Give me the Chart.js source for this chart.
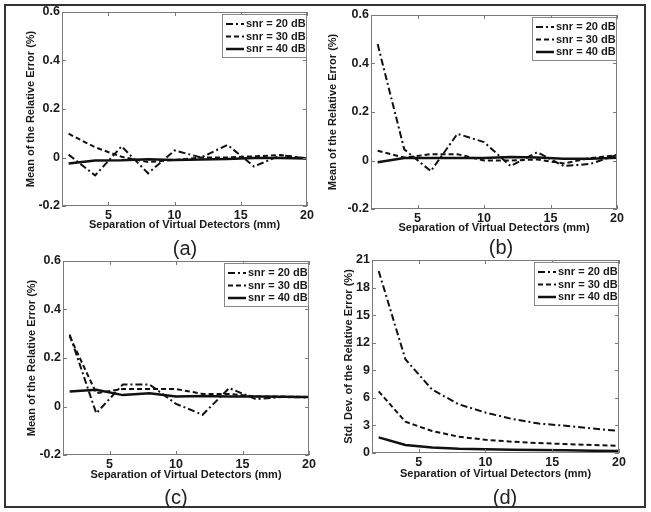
<!DOCTYPE html>
<html>
<head>
<meta charset="utf-8">
<script src="https://cdn.jsdelivr.net/npm/chart.js@4/dist/chart.umd.min.js"></script>
<style>
  body { margin: 0; background: #fff; width: 651px; height: 512px; overflow: hidden; }
  #frame { position: absolute; left: 4px; top: 4px; width: 642px; height: 504px; box-sizing: border-box; border: 2px solid #333; }
  canvas { position: absolute; }
  .tag { position: absolute; font: 20px "Liberation Sans", Arial, sans-serif; color: #222; transform: translate(-50%, -50%); }
</style>
</head>
<body>
<div id="frame"></div>
<canvas id="chartA" width="325" height="240" style="left:0px;top:0px"></canvas>
<canvas id="chartB" width="325" height="240" style="left:325px;top:0px"></canvas>
<canvas id="chartC" width="325" height="245" style="left:0px;top:245px"></canvas>
<canvas id="chartD" width="325" height="245" style="left:325px;top:245px"></canvas>
<div class="tag" style="left:185px;top:248px">(a)</div>
<div class="tag" style="left:501px;top:247px">(b)</div>
<div class="tag" style="left:176px;top:497px">(c)</div>
<div class="tag" style="left:505px;top:497px">(d)</div>
<script>
// separation of virtual detectors (mm)
const xs = [2, 4, 6, 8, 10, 12, 14, 16, 18, 20];
const xTicks = [5, 10, 15, 20];
const snrLabels = ['snr = 20 dB', 'snr = 30 dB', 'snr = 40 dB'];

// (a) mean of the relative error (%)
const a20 = [0.012, -0.074, 0.046, -0.065, 0.029, 0.0, 0.052, -0.037, 0.009, -0.003];
const a30 = [0.098, 0.042, 0.003, -0.019, -0.01, 0.0, 0.0, 0.005, 0.01, -0.004];
const a40 = [-0.025, -0.012, -0.011, -0.007, -0.01, -0.008, -0.006, -0.002, -0.002, -0.004];

// (b)
const b20 = [0.48, 0.046, -0.044, 0.11, 0.076, -0.023, 0.034, -0.023, -0.014, 0.023];
const b30 = [0.04, 0.012, 0.026, 0.026, 0.0, 0.0, 0.004, -0.012, 0.01, 0.022];
const b40 = [-0.007, 0.01, 0.01, 0.01, 0.01, 0.014, 0.012, 0.007, 0.007, 0.011];

// (c)
const c20 = [0.297, -0.028, 0.091, 0.091, 0.011, -0.034, 0.076, 0.03, 0.039, 0.037];
const c30 = [0.29, 0.055, 0.072, 0.072, 0.072, 0.052, 0.052, 0.041, 0.041, 0.039];
const c40 = [0.062, 0.069, 0.047, 0.055, 0.041, 0.043, 0.041, 0.041, 0.04, 0.039];

// (d) std. dev. of the relative error (%)
const d20 = [19.8, 10.2, 6.9, 5.3, 4.4, 3.7, 3.2, 2.96, 2.67, 2.4];
const d30 = [6.7, 3.4, 2.4, 1.77, 1.44, 1.23, 1.08, 0.97, 0.87, 0.79];
const d40 = [1.7, 0.87, 0.61, 0.47, 0.4, 0.36, 0.32, 0.29, 0.25, 0.22];

const meanTicks = [-0.2, 0, 0.2, 0.4, 0.6];
const stdTicks = [0, 3, 6, 9, 12, 15, 18, 21];

const xTitle = 'Separation of Virtual Detectors (mm)';
const meanTitle = 'Mean of the Relative Error (%)';
const stdTitle = 'Std. Dev. of the Relative Error (%)';

const ink = '#1a1a1a';
const fam = '"Liberation Sans", Arial, sans-serif';
const dashes = [[7, 3, 2, 3], [5, 3], []];
const widths = [2, 2, 2.5];

// matlab style box, inward ticks and boxed legend
const matlabFrame = {
  id: 'matlabFrame',
  afterDatasetsDraw(chart) {
    const ctx = chart.ctx;
    const a = chart.chartArea;
    const sx = chart.scales.x, sy = chart.scales.y;
    ctx.save();
    ctx.strokeStyle = '#7a7a7a';
    ctx.lineWidth = 1;
    ctx.setLineDash([]);
    ctx.strokeRect(Math.round(a.left) + 0.5, Math.round(a.top) + 0.5,
      Math.round(a.width) - 1, Math.round(a.height) - 1);
    ctx.beginPath();
    sx.ticks.forEach(t => {
      const px = Math.round(sx.getPixelForValue(t.value)) + 0.5;
      ctx.moveTo(px, a.bottom); ctx.lineTo(px, a.bottom - 4);
      ctx.moveTo(px, a.top); ctx.lineTo(px, a.top + 4);
    });
    sy.ticks.forEach(t => {
      const py = Math.round(sy.getPixelForValue(t.value)) + 0.5;
      ctx.moveTo(a.left, py); ctx.lineTo(a.left + 4, py);
      ctx.moveTo(a.right, py); ctx.lineTo(a.right - 4, py);
    });
    ctx.stroke();

    // legend box
    const bw = 84, bh = 43;
    const bx = Math.round(a.right) - 1 - bw, by = Math.round(a.top) + 2;
    ctx.fillStyle = '#fff';
    ctx.fillRect(bx, by, bw, bh);
    ctx.strokeStyle = '#888';
    ctx.strokeRect(bx + 0.5, by + 0.5, bw, bh);
    ctx.font = 'bold 11px ' + fam;
    ctx.textBaseline = 'middle';
    chart.data.datasets.forEach((ds, i) => {
      const ry = by + 10 + i * 12.5;
      ctx.strokeStyle = '#111';
      ctx.lineWidth = ds.borderWidth;
      ctx.setLineDash(ds.borderDash);
      ctx.beginPath();
      ctx.moveTo(bx + 4, ry);
      ctx.lineTo(bx + 22, ry);
      ctx.stroke();
      ctx.fillStyle = ink;
      ctx.fillText(ds.label, bx + 24, ry);
    });
    ctx.restore();
  }
};

function buildChart(id, geo, series, yTicks, yMin, yMax, yTitle) {
  new Chart(document.getElementById(id), {
    type: 'line',
    data: {
      datasets: series.map((s, i) => ({
        label: snrLabels[i],
        data: xs.map((x, j) => ({ x: x, y: s[j] })),
        borderColor: '#111',
        borderWidth: widths[i],
        borderDash: dashes[i],
        pointRadius: 0,
        tension: 0,
        fill: false
      }))
    },
    options: {
      responsive: false,
      animation: false,
      devicePixelRatio: 1,
      layout: { padding: { top: geo.top, right: geo.right, left: 0, bottom: 0 } },
      plugins: { legend: { display: false }, tooltip: { enabled: false } },
      scales: {
        x: {
          type: 'linear', min: 1.5, max: 20,
          afterBuildTicks: sc => { sc.ticks = xTicks.map(v => ({ value: v })); },
          afterFit: sc => { sc.height = geo.xh; },
          grid: { display: false, drawTicks: false },
          border: { display: false },
          ticks: { color: ink, font: { family: fam, size: 12.5, weight: 'bold' }, padding: 2, maxRotation: 0, callback: v => String(v) },
          title: { display: true, text: xTitle, color: ink, font: { family: fam, size: 11, weight: 'bold' }, padding: { top: 0, bottom: geo.xpad } }
        },
        y: {
          type: 'linear', min: yMin, max: yMax,
          afterBuildTicks: sc => { sc.ticks = yTicks.map(v => ({ value: v })); },
          afterFit: sc => { sc.width = geo.yw; },
          grid: { display: false, drawTicks: false },
          border: { display: false },
          ticks: { color: ink, font: { family: fam, size: 12.5, weight: 'bold' }, padding: 2, callback: v => String(v) },
          title: { display: true, text: yTitle, color: ink, font: { family: fam, size: 11, weight: 'bold' }, padding: { top: geo.ypad, bottom: 0 } }
        }
      }
    },
    plugins: [matlabFrame]
  });
}

buildChart('chartA', { top: 12, right: 18, yw: 62, xh: 34, ypad: 24.4, xpad: 8.4 }, [a20, a30, a40], meanTicks, -0.2, 0.6, meanTitle);
buildChart('chartB', { top: 15, right: 33, yw: 46, xh: 31, ypad: 1.6, xpad: 5.4 }, [b20, b30, b40], meanTicks, -0.2, 0.6, meanTitle);
buildChart('chartC', { top: 16, right: 16, yw: 63, xh: 35, ypad: 25.4, xpad: 8.4 }, [c20, c30, c40], meanTicks, -0.2, 0.6, meanTitle);
buildChart('chartD', { top: 15, right: 31, yw: 47, xh: 37, ypad: 17.4, xpad: 9.4 }, [d20, d30, d40], stdTicks, 0, 21, stdTitle);
</script>
</body>
</html>
